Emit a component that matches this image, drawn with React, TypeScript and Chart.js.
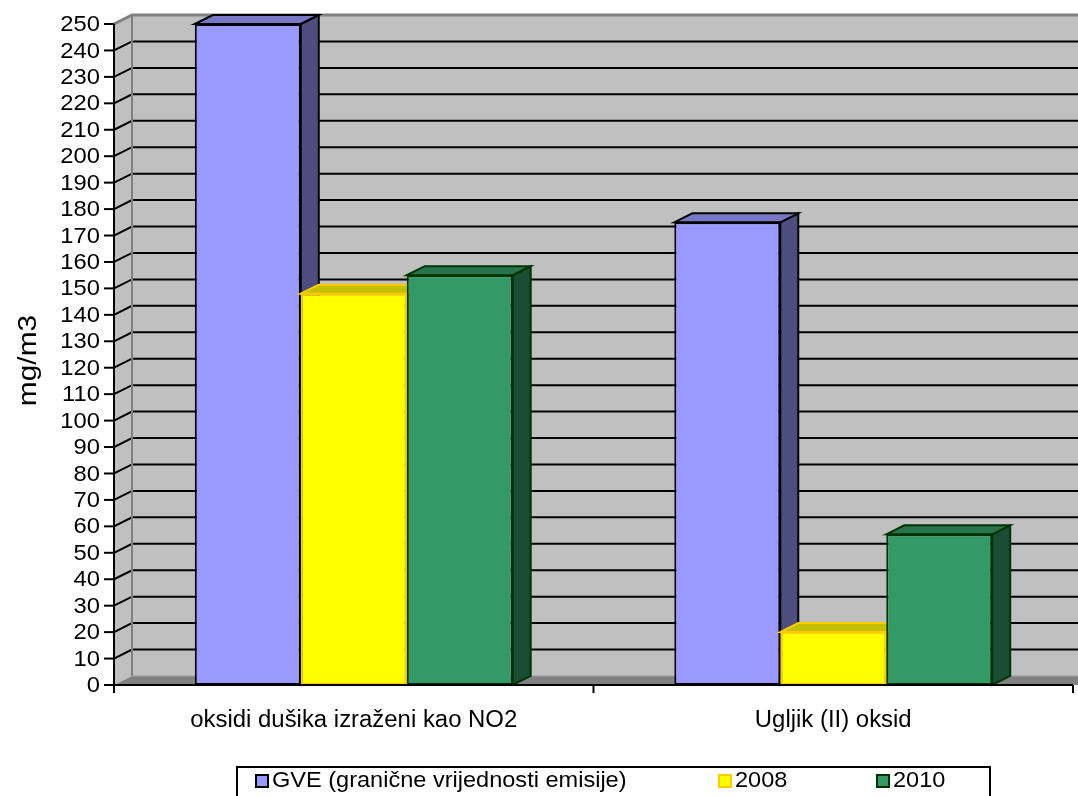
import React, { useEffect, useRef } from 'react';
import { Chart, registerables } from 'chart.js';

Chart.register(...registerables);

// ---- data ----
const categories = ['oksidi dušika izraženi kao NO2', 'Ugljik (II) oksid'];
const seriesNames = ['GVE (granične vrijednosti emisije)', '2008', '2010'];
const gveValues = [250, 175];
const values2008 = [148, 20];
const values2010 = [155, 57];
const yTickValues = [0, 10, 20, 30, 40, 50, 60, 70, 80, 90, 100, 110, 120, 130, 140, 150, 160, 170, 180, 190, 200, 210, 220, 230, 240, 250];
const yAxisTitle = 'mg/m3';

// ---- styling ----
const FONT = '"Liberation Sans", Arial, Helvetica, sans-serif';
const DX = 18; // depth offset of the 3D box, x
const DY = -9; // depth offset of the 3D box, y

// colours for each series: front face, top face, side face, outline
const palettes = [
  { front: '#9999FF', top: '#7777C4', side: '#4D4D80', line: '#000000' },
  { front: '#FFFF00', top: '#C4C000', side: '#808000', line: '#FFCC00' },
  { front: '#339966', top: '#26734D', side: '#1A4D33', line: '#003300' },
];

type Pt = [number, number];

function poly(ctx: CanvasRenderingContext2D, pts: Pt[], fill?: string, stroke?: string, lw = 2) {
  ctx.beginPath();
  ctx.moveTo(pts[0][0], pts[0][1]);
  for (let i = 1; i < pts.length; i++) ctx.lineTo(pts[i][0], pts[i][1]);
  ctx.closePath();
  if (fill) {
    ctx.fillStyle = fill;
    ctx.fill();
  }
  if (stroke) {
    ctx.strokeStyle = stroke;
    ctx.lineWidth = lw;
    ctx.stroke();
  }
}

function line(ctx: CanvasRenderingContext2D, pts: Pt[], color: string, lw = 2) {
  ctx.beginPath();
  ctx.moveTo(pts[0][0], pts[0][1]);
  for (let i = 1; i < pts.length; i++) ctx.lineTo(pts[i][0], pts[i][1]);
  ctx.strokeStyle = color;
  ctx.lineWidth = lw;
  ctx.stroke();
}

// text slightly widened horizontally, as in the original office-style rendering
function text(
  ctx: CanvasRenderingContext2D,
  str: string,
  x: number,
  y: number,
  size: number,
  sx: number,
  align: CanvasTextAlign,
  baseline: CanvasTextBaseline,
  rot = 0
) {
  ctx.save();
  ctx.translate(x, y);
  if (rot) ctx.rotate(rot);
  ctx.scale(sx, 1);
  ctx.font = `${size}px ${FONT}`;
  ctx.fillStyle = '#000';
  ctx.textAlign = align;
  ctx.textBaseline = baseline;
  ctx.fillText(str, 0, 0);
  ctx.restore();
}

const scene3d = {
  id: 'scene3d',
  beforeDatasetsDraw(chart: any) {
    const ctx: CanvasRenderingContext2D = chart.ctx;
    const { left, right, top, bottom } = chart.chartArea;
    const ys = chart.scales.y;
    const W = chart.width + 40;
    const maxTick = yTickValues[yTickValues.length - 1];

    ctx.save();
    ctx.lineCap = 'butt';
    ctx.lineJoin = 'miter';

    // back wall
    ctx.fillStyle = '#C0C0C0';
    ctx.fillRect(left + DX, top + DY, W - (left + DX), bottom - top);
    // side wall
    poly(ctx, [[left, top], [left + DX, top + DY], [left + DX, bottom + DY], [left, bottom]], '#C0C0C0');
    // floor
    poly(ctx, [[left, bottom], [left + DX, bottom + DY], [W, bottom + DY], [W, bottom], [right, bottom]], '#808080');

    // gridlines on side and back walls
    for (const v of yTickValues) {
      if (v === 0 || v === maxTick) continue;
      const py = ys.getPixelForValue(v);
      line(ctx, [[left, py], [left + DX, py + DY], [W, py + DY]], '#000000', 2);
    }

    // wall edges
    line(ctx, [[left + DX, top + DY], [left + DX, bottom + DY]], '#808080', 2);
    line(ctx, [[left, top], [left + DX, top + DY], [W, top + DY]], '#808080', 3);
    line(ctx, [[left + DX, bottom + DY], [W, bottom + DY]], '#A0A0A0', 1);

    // bars, series by series from left to right, each with its top and side faces
    chart.data.datasets.forEach((ds: any, i: number) => {
      const meta = chart.getDatasetMeta(i);
      const pal = palettes[i];
      meta.data.forEach((el: any) => {
        el.draw(ctx);
        const { x, y, base, width } = el.getProps(['x', 'y', 'base', 'width'], true);
        const l = x - width / 2;
        const r = x + width / 2;
        poly(ctx, [[r, y], [r + DX, y + DY], [r + DX, base + DY], [r, base]], pal.side, pal.line, 2);
        poly(ctx, [[l, y], [l + DX, y + DY], [r + DX, y + DY], [r, y]], pal.top, pal.line, 2);
      });
    });

    // axes
    line(ctx, [[left, top], [left, bottom + 8]], '#000000', 2);
    line(ctx, [[left, bottom], [right, bottom]], '#000000', 2);
    for (const v of yTickValues) {
      const py = ys.getPixelForValue(v);
      line(ctx, [[left - 10, py], [left, py]], '#000000', 2);
    }
    const xs = chart.scales.x;
    const bounds: number[] = [left];
    for (let i = 1; i < categories.length; i++) {
      bounds.push((xs.getPixelForValue(i - 1) + xs.getPixelForValue(i)) / 2);
    }
    bounds.push(right);
    for (const bx of bounds) line(ctx, [[bx, bottom], [bx, bottom + 8]], '#000000', 2);

    ctx.restore();
    return false;
  },
  afterDraw(chart: any) {
    const ctx: CanvasRenderingContext2D = chart.ctx;
    const { left, top, bottom } = chart.chartArea;
    const ys = chart.scales.y;
    const xs = chart.scales.x;

    // value axis labels
    for (const v of yTickValues) {
      text(ctx, String(v), left - 14, ys.getPixelForValue(v) + 1, 22, 1.08, 'right', 'middle');
    }
    // category labels
    chart.data.labels.forEach((lab: string, i: number) => {
      text(ctx, lab, xs.getPixelForValue(i), bottom + 42, 23, 1.04, 'center', 'alphabetic');
    });
    // axis title
    text(ctx, yAxisTitle, 29, (top + bottom) / 2 + 6, 26, 1.15, 'center', 'middle', -Math.PI / 2);

    // legend
    ctx.save();
    ctx.strokeStyle = '#000';
    ctx.lineWidth = 2;
    ctx.strokeRect(237, 767, 753, 40);
    const itemX = [256, 719, 877];
    chart.data.datasets.forEach((ds: any, i: number) => {
      const pal = palettes[i];
      const mx = itemX[i];
      ctx.fillStyle = pal.front;
      ctx.fillRect(mx, 775, 12, 12);
      ctx.strokeStyle = pal.line;
      ctx.lineWidth = 2;
      ctx.strokeRect(mx, 775, 12, 12);
      text(ctx, ds.label, mx + 16, 781, 22, 1.07, 'left', 'middle');
    });
    ctx.restore();
  },
};

export default function App() {
  const canvasRef = useRef<HTMLCanvasElement>(null);

  useEffect(() => {
    const series = [gveValues, values2008, values2010];
    const chart = new Chart(canvasRef.current as HTMLCanvasElement, {
      type: 'bar',
      data: {
        labels: categories,
        datasets: series.map((values, i) => ({
          label: seriesNames[i],
          data: values,
          backgroundColor: palettes[i].front,
          borderColor: palettes[i].line,
          borderWidth: 2,
          borderSkipped: false,
          categoryPercentage: 0.663,
          barPercentage: 1,
        })),
      },
      options: {
        animation: false,
        responsive: false,
        devicePixelRatio: 1,
        layout: { padding: { left: 0, right: 5, top: 24, bottom: 30 } },
        plugins: { legend: { display: false }, tooltip: { enabled: false } },
        scales: {
          x: {
            grid: { display: false },
            border: { display: false },
            ticks: { display: false },
            afterFit: (s: any) => {
              s.height = 81;
            },
          },
          y: {
            min: 0,
            max: 250,
            ticks: { display: false, stepSize: 10, maxTicksLimit: 40 },
            grid: { display: false },
            border: { display: false },
            afterFit: (s: any) => {
              s.width = 114;
            },
          },
        },
      } as any,
      plugins: [scene3d as any],
    });
    return () => chart.destroy();
  }, []);

  return (
    <div style={{ position: 'absolute', left: 0, top: 0, width: 1078, height: 796, background: '#ffffff', overflow: 'hidden' }}>
      <canvas ref={canvasRef} width={1078} height={796} style={{ display: 'block', width: 1078, height: 796 }} />
    </div>
  );
}
